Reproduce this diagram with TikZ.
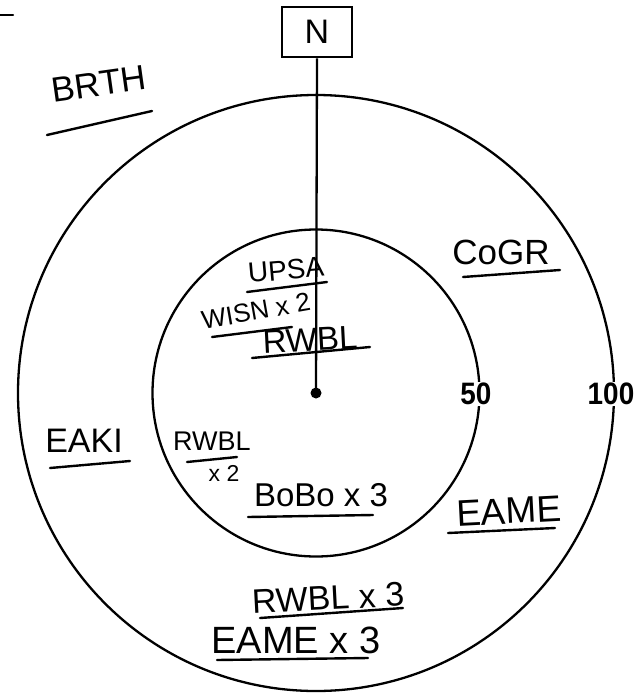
\documentclass[tikz,border=0pt]{standalone}
\usepackage{fontspec}
\setmainfont{Liberation Sans}
\begin{document}
\begin{tikzpicture}[x=1pt,y=-1pt,
  hand/.style={font=\fontsize{#1}{#1}\selectfont, inner sep=0pt, anchor=center},
  hand/.default=34,
  ring/.style={draw=black, line width=2.3pt},
  num/.style={font=\bfseries\fontsize{31}{31}\selectfont, fill=white, inner sep=1pt, xscale=0.9},
  uline/.style={line width=2.4pt, line cap=round}]
\useasboundingbox (0,0) rectangle (642,694);
\coordinate (c) at (316,393);
\draw[ring] (c) circle (298);
\draw[ring] (c) circle (163.5);
\node[draw, line width=2.5pt, minimum width=70, minimum height=50, inner sep=0pt,
      font=\fontsize{34}{34}\selectfont] (N) at (317,32) {N};
\node[circle, fill=black, minimum size=11, inner sep=0pt] (dot) at (c) {};
\draw[line width=2.3pt] (N.south) -- (dot.center);
\node[num] (n50) at (476,394) {50};
\node[num] (n100) at (611,394) {100};
% labels
\node[hand=35, rotate=8] (brth) at (99,84) {BRTH};
\node[hand=35] (cogr) at (501,252) {CoGR};
\node[hand=28, rotate=5] (upsa) at (286,270) {UPSA};
\node[hand=26, rotate=10] (wisn) at (256,311) {WISN x 2};
\node[hand=33, rotate=3] (rwbl1) at (310,340) {RWBL};
\node[hand=34] (eaki) at (84,441) {EAKI};
\node[hand=27] (rwbl2) at (212,441) {RWBL};
\node[hand=23] (x2) at (224,473) {x 2};
\node[hand=33] (bobo) at (321,495) {BoBo x 3};
\node[hand=37, rotate=3] (eame1) at (509,511) {EAME};
\node[hand=34, rotate=3] (rwbl3) at (328,598) {RWBL x 3};
\node[hand=38] (eame3) at (296,640) {EAME x 3};
% underlines
\draw[uline] (47,135) -- (152,111);
\draw[uline] (463,277) -- (560,270);
\draw[uline] (247,292) -- (327,282);
\draw[uline] (212,337) -- (292,327);
\draw[uline] (252,358) -- (370,347);
\draw[uline] (50,468) -- (130,461);
\draw[uline] (187,462) -- (237,457);
\draw[uline] (248,517) -- (373,515);
\draw[uline] (448,533) -- (555,528);
\draw[uline] (260,618) -- (403,608);
\draw[uline] (217,660) -- (368,658);
\draw[uline] (0,15) -- (13,15);
\end{tikzpicture}
\end{document}
